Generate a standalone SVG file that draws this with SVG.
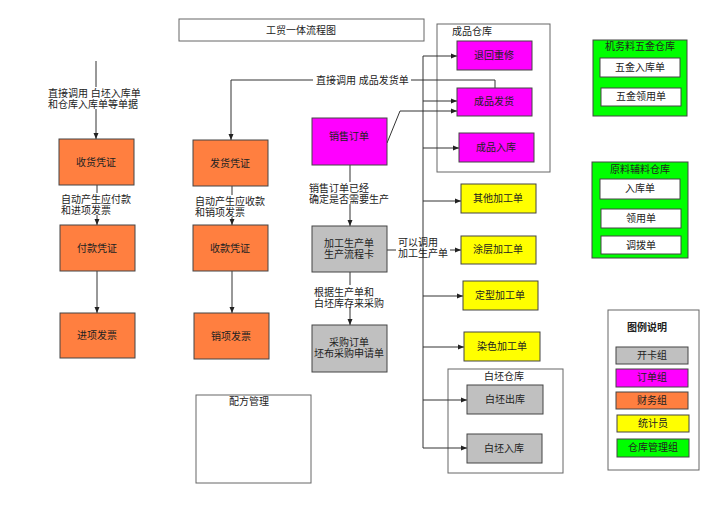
<svg xmlns="http://www.w3.org/2000/svg" width="720" height="509" viewBox="0 0 720 509">
<defs>
<marker id="arr" markerUnits="userSpaceOnUse" markerWidth="6" markerHeight="6" refX="6" refY="3" orient="auto"><path d="M0,0.5 L6,3 L0,5.5 z" fill="#222"/></marker>
<style>
text{font-family:"Liberation Sans","Noto Sans CJK SC",sans-serif;font-size:10px;fill:#222}
.c{text-anchor:middle}
.box{stroke:#444;stroke-width:1}
.or{fill:#ff7f40}
.mg{fill:#ff00ff}
.gy{fill:#c0c0c0}
.yl{fill:#ffff00}
.gr{fill:#00ff00}
.wh{fill:#fff}
.ct{fill:#fff;stroke:#666;stroke-width:1}
.ln{fill:none;stroke:#333;stroke-width:1}
.bg{fill:#fff}
</style>
</defs>
<rect width="720" height="509" fill="#fff"/>

<g id="title"><rect x="179" y="19" width="245" height="22" class="ct"/><text x="301" y="34" class="c">工贸一体流程图</text></g>

<g id="containers">
<g id="cp-store"><rect x="437" y="24" width="113" height="148" class="ct"/><text x="472" y="35" class="c">成品仓库</text></g>
<g id="bp-store"><rect x="448" y="369" width="115" height="104" class="ct"/><text x="504" y="380" class="c">白坯仓库</text></g>
<g id="formula"><rect x="196" y="395" width="115" height="88" class="ct"/><text x="249" y="405" class="c">配方管理</text></g>
</g>

<g id="connectors">
<path class="ln" d="M96,61 V139" marker-end="url(#arr)"/>
<path class="ln" d="M97,185 V225" marker-end="url(#arr)"/>
<path class="ln" d="M97,271 V313" marker-end="url(#arr)"/>
<path class="ln" d="M495,88 V80 H231 V140" marker-end="url(#arr)"/>
<path class="ln" d="M232,186 V225" marker-end="url(#arr)"/>
<path class="ln" d="M232,271 V313" marker-end="url(#arr)"/>
<path class="ln" d="M387,143 L400,111 H457" marker-end="url(#arr)"/>
<path class="ln" d="M350,165 V226" marker-end="url(#arr)"/>
<path class="ln" d="M350,272 V325" marker-end="url(#arr)"/>
<path class="ln" d="M387,250 H396"/>
<path class="ln" d="M450,250 H461" marker-end="url(#arr)"/>
<path class="ln" d="M423,56 V448"/>
<path class="ln" d="M423,56 H457" marker-end="url(#arr)"/>
<path class="ln" d="M423,101 H457" marker-end="url(#arr)"/>
<path class="ln" d="M423,148 H459" marker-end="url(#arr)"/>
<path class="ln" d="M423,201 H461" marker-end="url(#arr)"/>
<path class="ln" d="M423,296 H463" marker-end="url(#arr)"/>
<path class="ln" d="M423,347 H464" marker-end="url(#arr)"/>
<path class="ln" d="M423,400 H467" marker-end="url(#arr)"/>
<path class="ln" d="M423,448 H467" marker-end="url(#arr)"/>
</g>

<g id="labels">
<rect x="46" y="87" width="97" height="22" class="bg"/>
<text x="48" y="97">直接调用 白坯入库单</text>
<text x="48" y="108">和仓库入库单等单据</text>
<rect x="59" y="193" width="74" height="22" class="bg"/>
<text x="61" y="203">自动产生应付款</text>
<text x="61" y="214">和进项发票</text>
<rect x="193" y="195" width="74" height="22" class="bg"/>
<text x="195" y="205">自动产生应收款</text>
<text x="195" y="216">和销项发票</text>
<rect x="313" y="73" width="98" height="14" class="bg"/>
<text x="316" y="84">直接调用 成品发货单</text>
<rect x="307" y="182" width="84" height="22" class="bg"/>
<text x="309" y="192">销售订单已经</text>
<text x="309" y="203">确定是否需要生产</text>
<rect x="312" y="285" width="74" height="22" class="bg"/>
<text x="314" y="296">根据生产单和</text>
<text x="314" y="307">白坯库存来采购</text>
<text x="398" y="246">可以调用</text>
<text x="398" y="257">加工生产单</text>
</g>

<g id="n-shouhuo"><rect x="59" y="139" width="75" height="46" class="box or"/><text x="96" y="166" class="c">收货凭证</text></g>
<g id="n-fukuan"><rect x="60" y="225" width="75" height="46" class="box or"/><text x="97" y="252" class="c">付款凭证</text></g>
<g id="n-jinxiang"><rect x="60" y="313" width="75" height="45" class="box or"/><text x="97" y="339" class="c">进项发票</text></g>
<g id="n-fahuo"><rect x="193" y="140" width="75" height="46" class="box or"/><text x="230" y="167" class="c">发货凭证</text></g>
<g id="n-shoukuan"><rect x="193" y="225" width="75" height="46" class="box or"/><text x="230" y="252" class="c">收款凭证</text></g>
<g id="n-xiaoxiang"><rect x="194" y="313" width="75" height="46" class="box or"/><text x="231" y="340" class="c">销项发票</text></g>
<g id="n-xiaoshou"><rect x="312" y="118" width="75" height="47" class="box mg"/><text x="349" y="140" class="c">销售订单</text></g>
<g id="n-jiagong"><rect x="312" y="226" width="75" height="46" class="box gy"/><text x="349" y="247" class="c">加工生产单</text><text x="349" y="258" class="c">生产流程卡</text></g>
<g id="n-caigou"><rect x="312" y="325" width="75" height="47" class="box gy"/><text x="349" y="346" class="c">采购订单</text><text x="349" y="357" class="c">坯布采购申请单</text></g>

<g id="n-tuihui"><rect x="457" y="41" width="75" height="29" class="box mg"/><text x="494" y="59" class="c">退回重修</text></g>
<g id="n-cpfahuo"><rect x="457" y="88" width="75" height="28" class="box mg"/><text x="494" y="105" class="c">成品发货</text></g>
<g id="n-cpruku"><rect x="459" y="133" width="75" height="29" class="box mg"/><text x="496" y="151" class="c">成品入库</text></g>

<g id="n-qita"><rect x="461" y="184" width="75" height="29" class="box yl"/><text x="498" y="202" class="c">其他加工单</text></g>
<g id="n-tuceng"><rect x="461" y="236" width="75" height="28" class="box yl"/><text x="498" y="253" class="c">涂层加工单</text></g>
<g id="n-dingxing"><rect x="463" y="281" width="75" height="29" class="box yl"/><text x="500" y="299" class="c">定型加工单</text></g>
<g id="n-ranse"><rect x="464" y="332" width="76" height="29" class="box yl"/><text x="502" y="350" class="c">染色加工单</text></g>

<g id="n-bpchuku"><rect x="467" y="385" width="76" height="29" class="box gy"/><text x="505" y="403" class="c">白坯出库</text></g>
<g id="n-bpruku"><rect x="467" y="434" width="75" height="29" class="box gy"/><text x="504" y="452" class="c">白坯入库</text></g>

<g id="n-wujin">
<rect x="593" y="40" width="94" height="76" class="box gr"/>
<text x="640" y="50" class="c">机务料五金仓库</text>
<rect x="600" y="58" width="80" height="19" class="box wh"/><text x="640" y="71" class="c">五金入库单</text>
<rect x="601" y="88" width="80" height="18" class="box wh"/><text x="641" y="100" class="c">五金领用单</text>
</g>
<g id="n-yuanliao">
<rect x="592" y="162" width="96" height="96" class="box gr"/>
<text x="640" y="173" class="c">原料辅料仓库</text>
<rect x="600" y="179" width="80" height="20" class="box wh"/><text x="640" y="192" class="c">入库单</text>
<rect x="601" y="209" width="80" height="19" class="box wh"/><text x="641" y="222" class="c">领用单</text>
<rect x="601" y="236" width="80" height="18" class="box wh"/><text x="641" y="249" class="c">调拨单</text>
</g>

<g id="legend">
<rect x="608" y="310" width="91" height="160" class="ct"/>
<text x="647" y="331" class="c" style="font-weight:bold">图例说明</text>
<rect x="616" y="347" width="72" height="17" class="box gy"/><text x="652" y="359" class="c">开卡组</text>
<rect x="616" y="369" width="72" height="18" class="box mg"/><text x="652" y="381" class="c">订单组</text>
<rect x="616" y="392" width="72" height="17" class="box or"/><text x="652" y="404" class="c">财务组</text>
<rect x="617" y="415" width="72" height="17" class="box yl"/><text x="653" y="427" class="c">统计员</text>
<rect x="617" y="439" width="72" height="18" class="box gr"/><text x="653" y="451" class="c">仓库管理组</text>
</g>
</svg>
